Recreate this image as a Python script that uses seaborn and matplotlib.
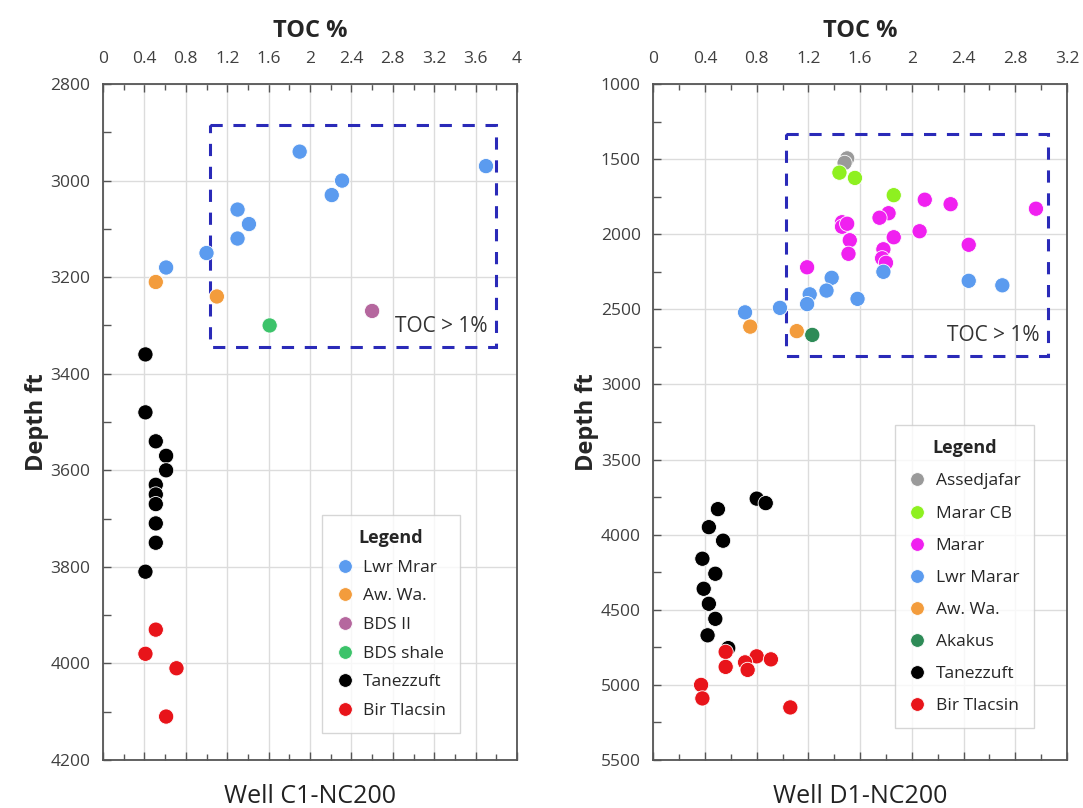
import numpy as np
import pandas as pd
import matplotlib.pyplot as plt
import seaborn as sns
from matplotlib.patches import Rectangle
from matplotlib.ticker import MultipleLocator

# Well C1-NC200 data
c1_unit = (["Lwr Mrar"] * 9 + ["Aw. Wa."] * 2 + ["BDS II"] + ["BDS shale"]
           + ["Tanezzuft"] * 11 + ["Bir Tlacsin"] * 4)
c1_toc = [1.90, 3.70, 2.31, 2.21, 1.30, 1.41, 1.30, 1.00, 0.61,
          0.51, 1.10,
          2.60,
          1.61,
          0.41, 0.41, 0.51, 0.61, 0.61, 0.51, 0.51, 0.51, 0.51, 0.51, 0.41,
          0.51, 0.41, 0.71, 0.61]
c1_depth = [2940, 2970, 3000, 3030, 3060, 3090, 3120, 3150, 3180,
            3210, 3240,
            3270,
            3300,
            3360, 3480, 3540, 3570, 3600, 3630, 3650, 3670, 3710, 3750, 3810,
            3930, 3980, 4010, 4110]
c1_order = ["Lwr Mrar", "Aw. Wa.", "BDS II", "BDS shale", "Tanezzuft", "Bir Tlacsin"]

# Well D1-NC200 data
d1_unit = (["Assedjafar"] * 2 + ["Marar CB"] * 3 + ["Marar"] * 17 + ["Lwr Marar"] * 10
           + ["Aw. Wa."] * 2 + ["Akakus"] + ["Tanezzuft"] * 12 + ["Bir Tlacsin"] * 9)
d1_toc = [1.50, 1.48,
          1.44, 1.56, 1.86,
          2.10, 2.30, 2.96, 1.82, 1.75, 1.46, 1.46, 2.06, 1.86, 1.52, 2.44,
          1.78, 1.51, 1.77, 1.80, 1.19, 1.50,
          1.78, 1.38, 2.44, 2.70, 1.34, 1.21, 1.58, 1.19, 0.98, 0.71,
          0.75, 1.11,
          1.23,
          0.80, 0.87, 0.50, 0.43, 0.54, 0.38, 0.48, 0.39, 0.43, 0.48, 0.42, 0.58,
          0.56, 0.80, 0.91, 0.71, 0.56, 0.73, 0.37, 0.38, 1.06]
d1_depth = [1495, 1525,
            1590, 1625, 1740,
            1770, 1800, 1830, 1860, 1890, 1920, 1950, 1980, 2020, 2040, 2070,
            2100, 2130, 2160, 2190, 2220, 1930,
            2250, 2290, 2310, 2340, 2375, 2400, 2430, 2465, 2490, 2520,
            2615, 2645,
            2670,
            3760, 3790, 3830, 3950, 4040, 4160, 4260, 4360, 4460, 4560, 4670, 4755,
            4780, 4810, 4830, 4850, 4880, 4900, 5000, 5090, 5150]
d1_order = ["Assedjafar", "Marar CB", "Marar", "Lwr Marar", "Aw. Wa.", "Akakus",
            "Tanezzuft", "Bir Tlacsin"]

colors = {"Lwr Mrar": "#5b9bef", "Lwr Marar": "#5b9bef", "Aw. Wa.": "#f39c3c",
          "BDS II": "#b5679e", "BDS shale": "#3cc36a", "Tanezzuft": "#000000",
          "Bir Tlacsin": "#e8141a", "Assedjafar": "#9a9a9a", "Marar CB": "#8ef020",
          "Marar": "#f020f0", "Akakus": "#2e8b57"}

sns.set_style("white")
plt.rcParams['font.family'] = ['Open Sans', 'DejaVu Sans']

c1 = pd.DataFrame({"TOC": c1_toc, "Depth": c1_depth, "Unit": c1_unit})
d1 = pd.DataFrame({"TOC": d1_toc, "Depth": d1_depth, "Unit": d1_unit})

fig = plt.figure(figsize=(10.83, 8.08), dpi=100)
ax1 = fig.add_axes([0.0951, 0.0594, 0.3823, 0.8366])
ax2 = fig.add_axes([0.6032, 0.0594, 0.3820, 0.8366])

panels = [
    (ax1, c1, c1_order, (0, 4), (4200, 2800), 200, 100, (1.03, 2885, 3.80, 3345),
     "Well C1-NC200", (0.529, 0.04), 0.72),
    (ax2, d1, d1_order, (0, 3.2), (5500, 1000), 500, 250, (1.03, 1335, 3.05, 2810),
     "Well D1-NC200", (0.584, 0.047), 0.92),
]

for ax, df, order, xlim, ylim, ymaj, ymin, box, well, leg_pos, lspace in panels:
    sns.scatterplot(data=df, x="TOC", y="Depth", hue="Unit", hue_order=order,
                    palette=colors, s=120, edgecolor="white", linewidth=0.6,
                    ax=ax, zorder=3)
    ax.set_xlim(*xlim)
    ax.set_ylim(*ylim)
    ax.xaxis.set_major_locator(MultipleLocator(0.4))
    ax.xaxis.set_minor_locator(MultipleLocator(0.2))
    ax.yaxis.set_major_locator(MultipleLocator(ymaj))
    ax.yaxis.set_minor_locator(MultipleLocator(ymin))
    ax.xaxis.set_major_formatter(plt.FuncFormatter(lambda v, p: f"{v:g}"))
    ax.xaxis.tick_top()
    ax.xaxis.set_label_position("top")
    ax.tick_params(axis="x", which="both", direction="in", top=True, bottom=True,
                   labeltop=True, labelbottom=False, labelsize=12.5,
                   labelcolor="#404040", pad=12, length=6, width=1, color="#555555")
    ax.tick_params(axis="x", which="minor", length=4)
    ax.tick_params(axis="y", which="both", direction="in", left=True, right=False,
                   labelsize=12.5, labelcolor="#404040", pad=9, length=6, width=1,
                   color="#555555")
    ax.grid(True, which="major", color="#dcdcdc", linewidth=1)
    for sp in ax.spines.values():
        sp.set_color("#555555")
        sp.set_linewidth(1.3)
    ax.set_xlabel("TOC %", fontsize=17, fontweight="bold", labelpad=10)
    ax.set_ylabel("Depth ft", fontsize=17, fontweight="bold", labelpad=1)
    ax.text(0.5, -0.035, well, transform=ax.transAxes, ha="center", va="top",
            fontsize=18, color="#222222")

    x0, y0, x1, y1 = box
    ax.add_patch(Rectangle((x0, y0), x1 - x0, y1 - y0, fill=False,
                           edgecolor="#2a2ab8", linewidth=2.2,
                           linestyle=(0, (4, 3.5)), zorder=2))
    ax.annotate("TOC > 1%", xy=(x1, y1), xytext=(-6, 7), textcoords="offset points",
                ha="right", va="bottom", fontsize=15, color="#333333", zorder=4)

    leg = ax.legend(title="Legend", loc="lower left", bbox_to_anchor=leg_pos,
                    borderaxespad=0, frameon=True, fancybox=False, fontsize=12.5,
                    title_fontsize=13, markerscale=0.9, handlelength=1.0,
                    handletextpad=0.55, labelspacing=lspace, borderpad=0.8,
                    edgecolor="#cccccc")
    leg.get_title().set_fontweight("bold")
    leg.get_frame().set_linewidth(1)

fig.savefig("out.png", dpi=100)
